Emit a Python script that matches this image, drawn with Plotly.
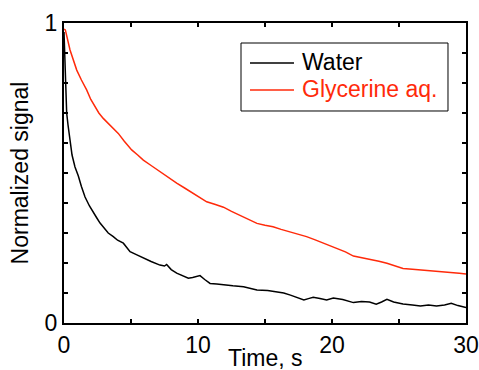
import plotly.graph_objects as go

# Water
water_t = [0, 0.05, 0.1, 0.2, 0.3, 0.45, 0.6, 0.82, 1.07, 1.3, 1.57, 1.9, 2.19, 2.45, 2.69, 3.0, 3.3,
           3.68, 4.0, 4.43, 4.7, 4.93, 5.4, 5.92, 6.5, 7.16, 7.5, 7.66, 8.0, 8.41, 8.8, 9.28, 9.6, 9.9,
           10.15, 10.5, 10.9, 11.4, 11.9, 12.6, 13.4, 13.9, 14.4, 15.2, 15.9, 16.4, 16.9, 17.4, 17.9,
           18.3, 18.6, 19.1, 19.6, 20.1, 20.8, 21.6, 22.2, 22.8, 23.3, 23.7, 24.1, 24.6, 25.3, 26.0,
           26.6, 27.2, 27.8, 28.4, 28.9, 29.4, 30.0]
water_y = [0.97, 0.88, 0.81, 0.70, 0.66, 0.60, 0.56, 0.52, 0.49, 0.455, 0.42, 0.39, 0.367, 0.35, 0.333,
           0.315, 0.30, 0.288, 0.276, 0.266, 0.25, 0.238, 0.228, 0.216, 0.205, 0.193, 0.19, 0.195, 0.178,
           0.166, 0.158, 0.149, 0.152, 0.154, 0.158, 0.145, 0.132, 0.13, 0.127, 0.124, 0.121, 0.115, 0.11,
           0.108, 0.104, 0.1, 0.093, 0.085, 0.077, 0.082, 0.086, 0.082, 0.077, 0.083, 0.078, 0.068, 0.072,
           0.07, 0.063, 0.07, 0.079, 0.07, 0.063, 0.06, 0.057, 0.06, 0.057, 0.06, 0.066, 0.058, 0.052]

# Glycerine aq.
gly_t = [0, 0.1, 0.45, 0.95, 1.3, 1.69, 2.0, 2.31, 2.6, 2.93, 3.5, 4.05, 4.5, 5.05, 5.5, 5.92, 6.5, 7.16,
         7.8, 8.41, 9.0, 9.65, 10.1, 10.65, 11.3, 11.9, 12.5, 13.1, 13.8, 14.4, 15.0, 15.6, 16.2, 16.9,
         17.5, 18.1, 18.7, 19.35, 19.85, 20.35, 21.0, 21.6, 22.2, 22.8, 23.5, 24.1, 24.7, 25.3, 26.0,
         26.6, 27.2, 27.8, 28.4, 29.05, 29.5, 30.0]
gly_y = [0.98, 0.977, 0.91, 0.843, 0.81, 0.777, 0.745, 0.721, 0.70, 0.682, 0.656, 0.632, 0.606, 0.577,
         0.56, 0.543, 0.525, 0.504, 0.483, 0.466, 0.45, 0.432, 0.42, 0.404, 0.395, 0.386, 0.372, 0.36,
         0.345, 0.332, 0.326, 0.321, 0.312, 0.304, 0.296, 0.288, 0.278, 0.266, 0.258, 0.249, 0.237,
         0.223, 0.218, 0.213, 0.206, 0.199, 0.19, 0.182, 0.179, 0.177, 0.174, 0.171, 0.169, 0.168,
         0.166, 0.163]

series_names = ["Water", "Glycerine aq."]
x_title = "Time, s"
y_title = "Normalized signal"

RED = "#ff2a0a"
COLORS = ["black", RED]
FONT = "Liberation Sans, Arial, sans-serif"
FS = 23

fig = go.Figure()
for name, xs, ys, col in zip(series_names, [water_t, gly_t], [water_y, gly_y], COLORS):
    fig.add_trace(go.Scatter(x=xs, y=ys, mode="lines", name=name,
                             line=dict(color=col, width=1.5), showlegend=False))

axis_common = dict(showline=True, linecolor="black", linewidth=2, mirror="ticks",
                   ticks="inside", ticklen=4, tickwidth=1.5, tickcolor="black",
                   showgrid=False, zeroline=False, automargin=False,
                   tickfont=dict(family=FONT, size=FS, color="black"))

# manual legend box (paper coordinates)
leg_x0, leg_x1, leg_y0, leg_y1 = 0.4403, 0.9552, 0.7067, 0.9333
line_x0, line_x1, text_x = 0.4627, 0.5721, 0.5871
row_y = [0.8667, 0.7767]

shapes = [dict(type="rect", xref="paper", yref="paper", x0=leg_x0, x1=leg_x1, y0=leg_y0, y1=leg_y1,
               line=dict(color="black", width=1), fillcolor="white", layer="above")]
annotations = []
for name, col, yy in zip(series_names, COLORS, row_y):
    shapes.append(dict(type="line", xref="paper", yref="paper", x0=line_x0, x1=line_x1, y0=yy, y1=yy,
                       line=dict(color=col, width=1.5), layer="above"))
    annotations.append(dict(xref="paper", yref="paper", x=text_x, y=yy + 0.004, text=name,
                            showarrow=False, xanchor="left", yanchor="middle",
                            font=dict(family=FONT, size=FS, color=col)))

# x-axis title as an annotation for precise placement
annotations.append(dict(xref="paper", yref="paper", x=0.5, y=-0.117, text=x_title,
                        showarrow=False, xanchor="center", yanchor="middle",
                        font=dict(family=FONT, size=FS, color="black")))

fig.update_layout(
    width=479, height=370,
    margin=dict(l=64, r=13, t=23, b=47),
    paper_bgcolor="white", plot_bgcolor="white",
    font=dict(family=FONT, size=FS, color="black"),
    xaxis=dict(range=[0, 30], tick0=0, dtick=10,
               minor=dict(dtick=5, ticks="inside", ticklen=4, tickcolor="black", showgrid=False),
               **axis_common),
    yaxis=dict(range=[0, 1], tick0=0, dtick=1,
               minor=dict(dtick=0.1, ticks="inside", ticklen=4, tickcolor="black", showgrid=False),
               title=dict(text=y_title, font=dict(family=FONT, size=FS), standoff=10),
               **axis_common),
    shapes=shapes,
    annotations=annotations,
    showlegend=False,
)

fig.write_html("out.html", config={"displayModeBar": False},
               post_script="document.body.style.margin='0';document.body.style.overflow='hidden';")
